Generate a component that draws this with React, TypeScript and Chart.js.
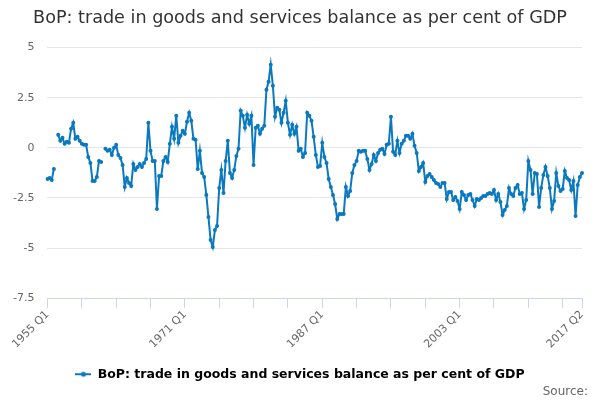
import React, { useEffect, useRef } from "react";
import { Chart, registerables } from "chart.js";

Chart.register(...registerables);

const TITLE = "BoP: trade in goods and services balance as per cent of GDP";
const SERIES_NAME = "BoP: trade in goods and services balance as per cent of GDP";
const SOURCE = "Source:";

const FIRST_YEAR = 1955;
const LAST_YEAR = 2017;
const LAST_QUARTER = 2;

// Quarterly values, % of GDP
const v1955to1964 = [-1.55, -1.5, -1.6, -1.05, null, 0.65, 0.35, 0.5, 0.2, 0.3, 0.25, 0.95, 1.25, 0.45, 0.55, 0.35, 0.2, 0.15, 0.15, -0.45, -0.75, -1.65, -1.65, -1.45, -0.65, -0.7, null, -0.05, -0.15, -0.1, -0.35, 0.0, 0.15, -0.35, -0.5, -0.85, -1.95, -1.5, -1.75, -1.9];
const v1965to1974 = [-0.8, -1.1, -0.95, -0.8, -0.95, -0.75, -0.55, 1.25, -0.15, -0.65, -0.65, -3.05, -1.4, -1.4, -0.65, -0.45, -0.7, 0.2, 1.05, 0.45, 1.6, 0.25, 0.6, 0.85, 0.7, 1.3, 1.75, 1.35, 0.45, 0.4, -1.05, -0.15, -1.25, -1.45, -2.35, -3.45, -4.6, -4.95, -4.1, -3.9];
const v1975to1984 = [-2.0, -1.1, -2.25, -0.65, 0.35, -1.25, -1.5, -1.1, -0.4, -0.05, 1.85, 1.6, 1.0, 1.65, 1.2, 1.6, -0.85, 1.0, 1.1, 0.7, 0.95, 1.1, 2.9, 3.3, 4.15, 3.1, 1.55, 2.0, 1.9, 1.25, 1.75, 2.35, 1.25, 0.65, 1.15, 0.7, 1.05, -0.15, -0.05, -0.45];
const v1985to1994 = [-0.25, 1.75, 1.6, 1.35, 0.55, -0.35, -0.95, -0.9, 0.25, -0.45, -0.75, -1.55, -1.95, -2.35, -2.8, -3.55, -3.3, -3.3, -3.3, -1.95, -2.4, -2.15, -1.25, -0.85, -0.65, -0.15, -0.2, -0.15, -0.15, -0.55, -1.1, -0.8, -0.35, -0.65, -0.25, -0.1, -0.05, -0.3, 0.15, 0.2];
const v1995to2004 = [1.55, -0.2, -0.35, 0.35, -0.25, 0.2, 0.35, 0.6, 0.6, 0.45, 0.7, 0.1, -0.25, -1.15, -0.95, -0.75, -1.7, -1.4, -1.3, -1.45, -1.6, -1.75, -1.8, -1.95, -1.75, -1.75, -2.55, -2.2, -2.2, -2.6, -2.45, -2.65, -3.05, -2.2, -2.35, -2.6, -2.35, -2.3, -2.6, -2.9];
const v2005to2014 = [-2.55, -2.6, -2.5, -2.4, -2.4, -2.3, -2.25, -2.3, -2.1, -2.6, -2.3, -2.7, -3.35, -3.1, -2.9, -2.0, -2.3, -2.4, -2.0, -1.85, -2.3, -2.25, -3.05, -2.6, -0.65, -1.1, -2.3, -1.25, -1.3, -2.95, -2.0, -1.35, -0.95, -1.4, -2.0, -3.05, -2.65, -1.25, -1.9, -2.15];
const v2015to2017 = [-2.05, -1.15, -1.5, -1.6, -2.1, -1.65, -3.4, -1.85, -1.45, -1.25];

// Labelled ticks on the x axis
const labelledTicks = ["1955 Q1", "1971 Q1", "1987 Q1", "2003 Q1", "2017 Q2"];
const yTicks = [5, 2.5, 0, -2.5, -5, -7.5];

const COLOR = "#0a79bf";
const FONT = "'DejaVu Sans', Verdana, sans-serif";

function buildCategories(): string[] {
  const out: string[] = [];
  for (let y = FIRST_YEAR; y <= LAST_YEAR; y++) {
    for (let q = 1; q <= 4; q++) {
      if (y === LAST_YEAR && q > LAST_QUARTER) break;
      out.push(`${y} Q${q}`);
    }
  }
  return out;
}

function legendMarker(): HTMLCanvasElement {
  const c = document.createElement("canvas");
  c.width = 16;
  c.height = 10;
  const ctx = c.getContext("2d")!;
  ctx.strokeStyle = COLOR;
  ctx.lineWidth = 2;
  ctx.beginPath();
  ctx.moveTo(0, 5);
  ctx.lineTo(16, 5);
  ctx.stroke();
  ctx.fillStyle = COLOR;
  ctx.beginPath();
  ctx.arc(8, 5, 2.5, 0, Math.PI * 2);
  ctx.fill();
  return c;
}

export default function App() {
  const ref = useRef<HTMLCanvasElement | null>(null);

  useEffect(() => {
    if (!ref.current) return;
    const categories = buildCategories();
    const values = [
      ...v1955to1964,
      ...v1965to1974,
      ...v1975to1984,
      ...v1985to1994,
      ...v1995to2004,
      ...v2005to2014,
      ...v2015to2017,
    ];
    const marker = legendMarker();
    const lastIdx = categories.length - 1;

    const chart = new Chart(ref.current, {
      type: "line",
      data: {
        labels: categories,
        datasets: [
          {
            label: SERIES_NAME,
            data: values,
            borderColor: COLOR,
            backgroundColor: COLOR,
            borderWidth: 2,
            pointRadius: 2,
            pointHoverRadius: 2,
            pointBorderWidth: 0,
            tension: 0,
            spanGaps: false,
          },
        ],
      },
      options: {
        animation: false,
        responsive: true,
        maintainAspectRatio: false,
        layout: { padding: { left: 0, right: 0, top: 0, bottom: 9.5 } },
        plugins: {
          tooltip: { enabled: false },
          title: {
            display: true,
            text: TITLE,
            color: "#333333",
            font: { family: FONT, size: 17.6, weight: "normal" },
            padding: { top: 8, bottom: 18.5 },
          },
          legend: {
            display: true,
            position: "bottom",
            labels: {
              color: "#333333",
              font: { family: FONT, size: 12.5, weight: "bold" },
              usePointStyle: true,
              pointStyleWidth: 16,
              padding: 17.1,
              generateLabels: () => [
                {
                  text: SERIES_NAME,
                  fillStyle: COLOR,
                  strokeStyle: COLOR,
                  pointStyle: marker,
                  lineWidth: 0,
                  hidden: false,
                  datasetIndex: 0,
                } as any,
              ],
            },
          },
        },
        scales: {
          x: {
            type: "category",
            afterFit: (scale: any) => {
              scale.paddingRight = 18;
            },
            grid: {
              drawOnChartArea: false,
              color: "#ccd6eb",
              tickLength: 10,
            },
            border: { color: "#ccd6eb" },
            ticks: {
              autoSkip: false,
              minRotation: 45,
              maxRotation: 45,
              color: "#666666",
              font: { family: FONT, size: 11 },
              padding: 0,
              callback: function (value: any, index: number) {
                const lab = categories[index];
                if (labelledTicks.includes(lab)) return lab;
                if (index % 16 === 0 || index === lastIdx) return "";
                return null as any;
              },
            },
          },
          y: {
            min: -7.5,
            max: 5,
            afterBuildTicks: (axis: any) => {
              axis.ticks = yTicks.map((v) => ({ value: v }));
            },
            grid: { color: "#e6e6e6", drawTicks: false },
            border: { display: false },
            ticks: {
              color: "#666666",
              font: { family: FONT, size: 11 },
              padding: 13,
              callback: (v: any) => String(v),
            },
          },
        },
      },
    });
    return () => chart.destroy();
  }, []);

  return (
    <div style={{ position: "absolute", left: 0, top: 0, width: 600, height: 400, background: "#fff" }}>
      <canvas ref={ref} />
      <span
        style={{
          position: "absolute",
          right: 12,
          top: 384,
          fontFamily: FONT,
          fontSize: 12,
          lineHeight: "14px",
          color: "#666666",
          whiteSpace: "nowrap",
        }}
      >
        {SOURCE}
      </span>
    </div>
  );
}
